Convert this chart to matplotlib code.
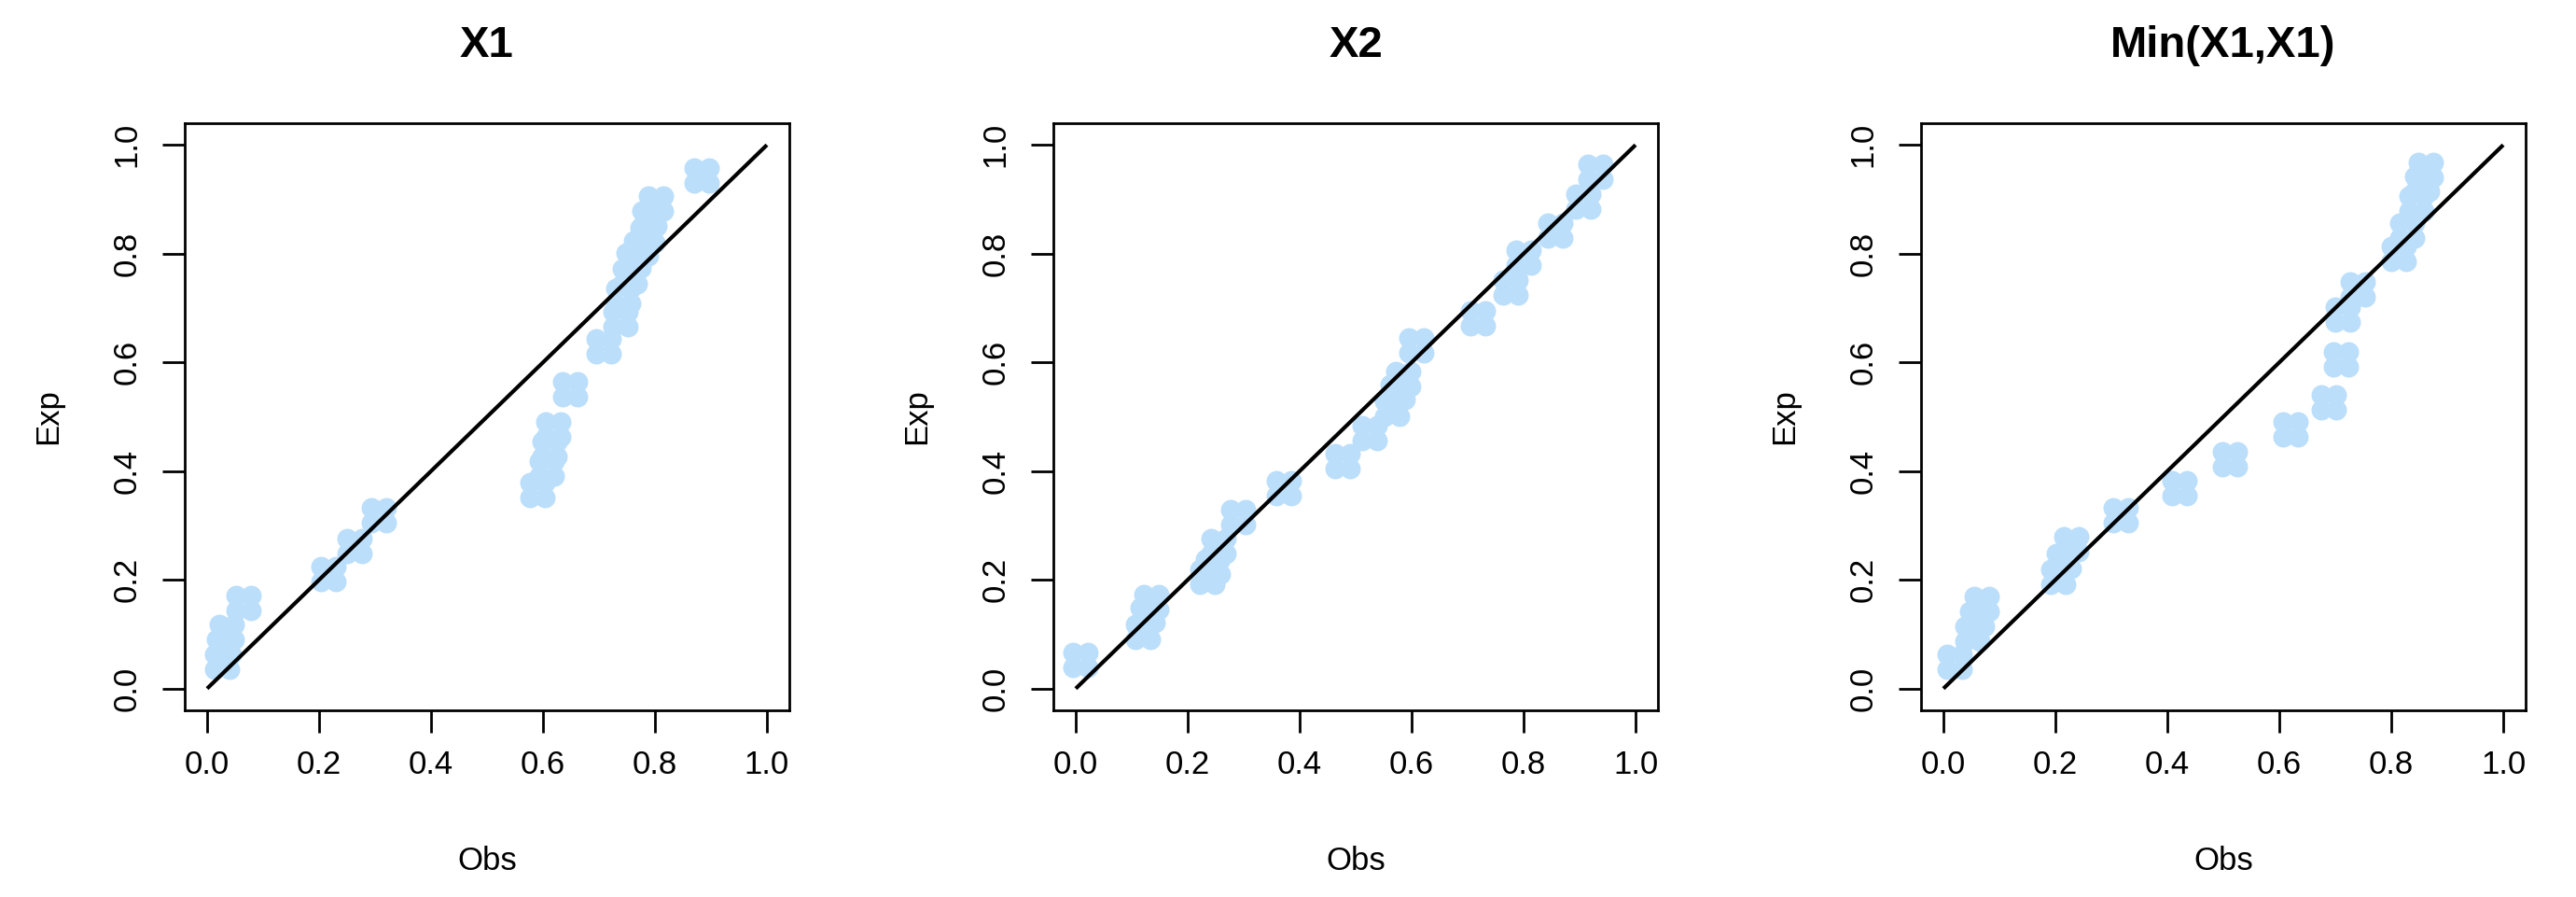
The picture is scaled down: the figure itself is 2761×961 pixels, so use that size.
import matplotlib
matplotlib.use("Agg")
import matplotlib.pyplot as plt
from matplotlib.transforms import offset_copy

plt.rcParams['font.family'] = ['Liberation Sans', 'DejaVu Sans']

titles = ["X1", "X2", "Min(X1,X1)"]

# Obs / Exp pairs, one pair of lists per panel
obs1 = [0.027, 0.030, 0.035, 0.065, 0.216, 0.264, 0.306, 0.590, 0.607, 0.612, 0.618,
        0.648, 0.709, 0.738, 0.744, 0.755, 0.762, 0.775, 0.786, 0.790, 0.802, 0.883]
exp1 = [0.049, 0.077, 0.104, 0.157, 0.210, 0.263, 0.318, 0.365, 0.405, 0.440, 0.477,
        0.551, 0.630, 0.680, 0.722, 0.758, 0.788, 0.810, 0.834, 0.865, 0.892, 0.943]

obs2 = [0.008, 0.120, 0.128, 0.135, 0.235, 0.245, 0.255, 0.290, 0.372, 0.476, 0.525,
        0.565, 0.575, 0.585, 0.609, 0.719, 0.777, 0.800, 0.856, 0.907, 0.928]
exp2 = [0.053, 0.105, 0.135, 0.160, 0.205, 0.225, 0.262, 0.316, 0.368, 0.419, 0.470,
        0.515, 0.545, 0.570, 0.631, 0.682, 0.738, 0.792, 0.842, 0.896, 0.950]

obs3 = [0.020, 0.052, 0.060, 0.069, 0.205, 0.215, 0.228, 0.317, 0.421, 0.512, 0.620,
        0.689, 0.710, 0.713, 0.740, 0.814, 0.828, 0.845, 0.855, 0.862]
exp3 = [0.050, 0.100, 0.128, 0.155, 0.205, 0.235, 0.265, 0.318, 0.369, 0.422, 0.476,
        0.527, 0.606, 0.688, 0.734, 0.799, 0.842, 0.892, 0.928, 0.955]

ticks = [0.0, 0.2, 0.4, 0.6, 0.8, 1.0]
tick_labels = ["0.0", "0.2", "0.4", "0.6", "0.8", "1.0"]

pt_col = "#BBDEFB"
W, H = 2761, 961
fig = plt.figure(figsize=(W / 100, H / 100), dpi=100)

lefts = [198, 1129, 2059]
data = [(obs1, exp1), (obs2, exp2), (obs3, exp3)]

for left, title, (obs, exp) in zip(lefts, titles, data):
    ax = fig.add_axes([left / W, (H - 761) / H, 648 / W, 629 / H])

    # each point drawn as a four-lobed blob, like the original
    for dx, dy in [(-8, -8), (-8, 8), (8, -8), (8, 8)]:
        tr = offset_copy(ax.transData, fig=fig, x=dx, y=dy, units='dots')
        ax.scatter(obs, exp, s=250, color=pt_col, linewidths=0, transform=tr, zorder=2)

    ax.plot([0, 1], [0, 1], color='black', lw=3, zorder=3, solid_capstyle='butt')

    ax.set_xlim(-0.04, 1.04)
    ax.set_ylim(-0.04, 1.04)
    ax.set_xticks(ticks)
    ax.set_yticks(ticks)
    ax.set_xticklabels(tick_labels, fontsize=25)
    ax.set_yticklabels(tick_labels, fontsize=25, rotation=90, va='center')
    ax.tick_params(axis='both', length=17, width=2)
    ax.tick_params(axis='x', pad=13)
    ax.tick_params(axis='y', pad=16)
    for sp in ax.spines.values():
        sp.set_linewidth(2)

    ax.text(0.5, (761 - 49) / 629, title, transform=ax.transAxes, ha='center', va='center',
            fontsize=34, fontweight='bold')
    ax.text(0.5, -(923 - 761) / 629, "Obs", transform=ax.transAxes, ha='center', va='center',
            fontsize=25)
    ax.text(-146 / 648, 0.5, "Exp", transform=ax.transAxes, ha='center', va='center',
            fontsize=25, rotation=90)

fig.savefig("out.png", dpi=100, facecolor='white')
